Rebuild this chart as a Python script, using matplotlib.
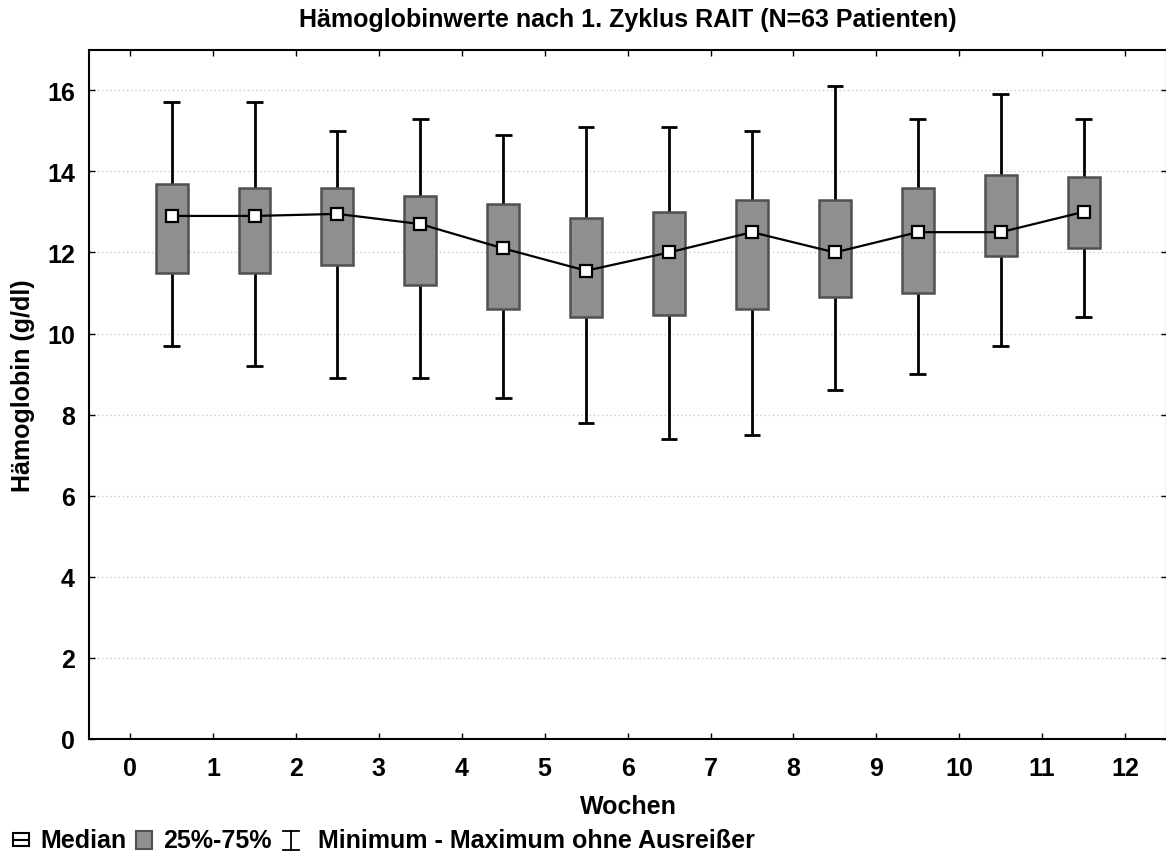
import numpy as np
import matplotlib
matplotlib.use("Agg")
import matplotlib.pyplot as plt
from matplotlib.lines import Line2D
from matplotlib.patches import Rectangle

plt.rcParams['font.family'] = ['Liberation Sans', 'DejaVu Sans']
plt.rcParams['font.weight'] = 'bold'

# ---- data ----
weeks = list(range(13))                      # x tick labels 0..12
positions = [0.5 + i for i in range(12)]    # boxes sit between week ticks
q1 = [11.5, 11.5, 11.7, 11.2, 10.6, 10.4, 10.45, 10.6, 10.9, 11.0, 11.9, 12.1]
q3 = [13.7, 13.6, 13.6, 13.4, 13.2, 12.85, 13.0, 13.3, 13.3, 13.6, 13.9, 13.85]
median = [12.9, 12.9, 12.95, 12.7, 12.1, 11.55, 12.0, 12.5, 12.0, 12.5, 12.5, 13.0]
wmin = [9.7, 9.2, 8.9, 8.9, 8.4, 7.8, 7.4, 7.5, 8.6, 9.0, 9.7, 10.4]
wmax = [15.7, 15.7, 15.0, 15.3, 14.9, 15.1, 15.1, 15.0, 16.1, 15.3, 15.9, 15.3]
yticks = [0, 2, 4, 6, 8, 10, 12, 14, 16]

title = "Hämoglobinwerte nach 1. Zyklus RAIT (N=63 Patienten)"
xlabel = "Wochen"
ylabel = "Hämoglobin (g/dl)"
leg_median = "Median"
leg_box = "25%-75%"
leg_whisk = "Minimum - Maximum ohne Ausreißer"

FS = 18

W, H = 1166, 854
fig = plt.figure(figsize=(W / 100, H / 100), dpi=100)
ax = fig.add_axes([88.7 / W, 1 - 740 / H, (1166.5 - 88.7) / W, (740 - 50.7) / H])

box_color = '#8f8f8f'
box_edge = '#505050'
bw = 0.385
cw = 0.2

# whiskers
ax.vlines(positions, wmin, q1, color='black', lw=2.0, zorder=2)
ax.vlines(positions, q3, wmax, color='black', lw=2.0, zorder=2)
ax.hlines(wmin, [p - cw / 2 for p in positions], [p + cw / 2 for p in positions],
          color='black', lw=2.0, zorder=2)
ax.hlines(wmax, [p - cw / 2 for p in positions], [p + cw / 2 for p in positions],
          color='black', lw=2.0, zorder=2)
# boxes
ax.bar(positions, np.array(q3) - np.array(q1), bottom=q1, width=bw,
       color=box_color, edgecolor=box_edge, linewidth=1.8, zorder=3)
# median line with markers
ax.plot(positions, median, color='black', lw=1.6, marker='s', markersize=9,
        markerfacecolor='white', markeredgecolor='black', markeredgewidth=1.6, zorder=4)

ax.set_xlim(-0.5, 12.5)
ax.set_ylim(0, 17)
ax.set_xticks(weeks)
ax.set_yticks(yticks)
ax.tick_params(direction='in', length=4, width=1, top=True, right=True,
               labelsize=FS, pad=10)
ax.tick_params(axis='x', pad=12)
for lab in ax.get_xticklabels() + ax.get_yticklabels():
    lab.set_fontweight('bold')
ax.yaxis.grid(True, linestyle=(0, (1, 2)), color='#cccccc', lw=1)
ax.set_axisbelow(True)
for s in ax.spines.values():
    s.set_linewidth(1.5)

fig.text(0.5 * (88.7 + 1166) / W, 1 - 20 / H, title, ha='center', va='center',
         fontsize=FS, fontweight='bold')
fig.text(628 / W, 1 - 807 / H, xlabel, ha='center', va='center',
         fontsize=FS, fontweight='bold')
fig.text(23 / W, 1 - 386 / H, ylabel, ha='center', va='center', rotation=90,
         fontsize=FS, fontweight='bold')

# legend row (drawn in pixel coordinates)
def fx(x):
    return x / W

def fy(y):
    return 1 - y / H

ly = 841
# median symbol: open rectangle with horizontal line
fig.add_artist(Rectangle((fx(13), fy(847)), 16 / W, 13 / H, facecolor='white',
                         edgecolor='black', lw=1.5, transform=fig.transFigure))
fig.add_artist(Line2D([fx(13), fx(29)], [fy(840.5), fy(840.5)], color='black', lw=1.5,
                      transform=fig.transFigure))
fig.text(fx(40), fy(ly), leg_median, ha='left', va='center', fontsize=FS, fontweight='bold')
# box symbol
fig.add_artist(Rectangle((fx(136), fy(850)), 16 / W, 18 / H, facecolor=box_color,
                         edgecolor=box_edge, lw=1.5, transform=fig.transFigure))
fig.text(fx(163), fy(ly), leg_box, ha='left', va='center', fontsize=FS, fontweight='bold')
# whisker symbol (I-beam)
fig.add_artist(Line2D([fx(291), fx(291)], [fy(832), fy(851)], color='black', lw=1.3,
                      transform=fig.transFigure))
fig.add_artist(Line2D([fx(283), fx(299)], [fy(832), fy(832)], color='black', lw=1.3,
                      transform=fig.transFigure))
fig.add_artist(Line2D([fx(283), fx(299)], [fy(851), fy(851)], color='black', lw=1.3,
                      transform=fig.transFigure))
fig.text(fx(318), fy(ly), leg_whisk, ha='left', va='center', fontsize=FS, fontweight='bold')

fig.savefig("out.png", dpi=100)
